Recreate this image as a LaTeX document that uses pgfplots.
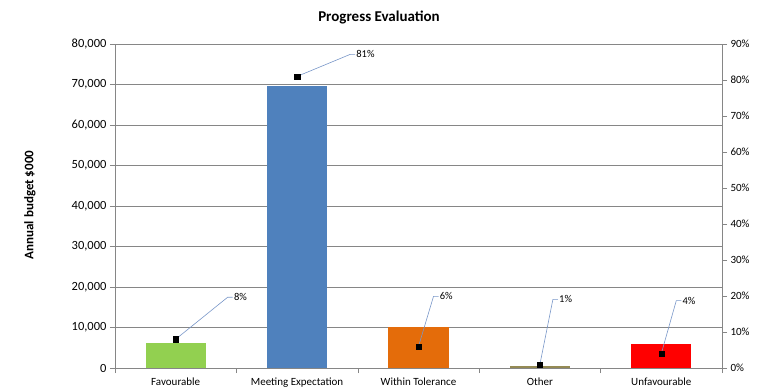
\documentclass[border=0pt]{standalone}
\usepackage{pgfplots}
\pgfplotsset{compat=1.18}
\usepackage{fontspec}
\setmainfont{Carlito}
\definecolor{gfav}{RGB}{146,208,80}
\definecolor{bmeet}{RGB}{79,129,189}
\definecolor{owith}{RGB}{228,108,10}
\definecolor{kother}{RGB}{148,138,84}
\definecolor{runf}{RGB}{255,0,0}
\definecolor{gridc}{RGB}{134,134,134}
\definecolor{leader}{RGB}{120,150,200}
\begin{document}
\begin{tikzpicture}
\path[use as bounding box] (-115pt,-23pt) rectangle (643pt,368pt);
\begin{axis}[
  scale only axis, width=607pt, height=324pt,
  xmin=-0.5, xmax=4.5, ymin=0, ymax=80000,
  ytick={0,10000,...,80000},
  scaled y ticks=false,
  /pgf/number format/assume math mode=true,
  /pgf/number format/1000 sep={,},
  xtick={0,1,2,3,4},
  xticklabels={Favourable,Meeting Expectation,Within Tolerance,Other,Unfavourable},
  minor xtick={-0.5,0.5,1.5,2.5,3.5,4.5},
  major x tick style={draw=none},
  minor tick length=5pt,
  major tick length=5pt,
  tick align=outside,
  axis y line*=left, axis x line*=bottom,
  axis line style={gridc},
  every tick/.style={gridc},
  ymajorgrids, grid style={gridc, line width=0.8pt},
  yticklabel style={font=\fontsize{12.5}{14}\selectfont, black},
  xticklabel style={font=\fontsize{11}{13}\selectfont, black, yshift=-1pt},
  ybar=0pt, bar width=60pt, bar shift=0pt,
]
\addplot[fill=gfav, draw=none] coordinates {(0,6200)};
\addplot[fill=bmeet, draw=none] coordinates {(1,69600)};
\addplot[fill=owith, draw=none] coordinates {(2,10100)};
\addplot[fill=kother, draw=none] coordinates {(3,500)};
\addplot[fill=runf, draw=none] coordinates {(4,5900)};
\end{axis}
\begin{axis}[
  scale only axis, width=607pt, height=324pt,
  xmin=-0.5, xmax=4.5, ymin=0, ymax=90,
  ytick={0,10,...,90},
  yticklabel={\pgfmathprintnumber{\tick}\%},
  /pgf/number format/assume math mode=true,
  axis y line*=right, axis x line=none,
  axis line style={gridc},
  every tick/.style={gridc},
  tick align=outside, major tick length=5pt,
  tick label style={font=\fontsize{11}{13}\selectfont, black},
]
\addplot[only marks, mark=square*, mark size=2.6pt, black] coordinates {(0,8) (1,81) (2,6) (3,1) (4,4)};
\begin{scope}[leader, line width=0.6pt]
\draw (axis cs:0,8) -- ++(52pt,42pt) -- ++(5pt,0pt) node[right, black, inner sep=1pt, font=\fontsize{10.5}{12}\selectfont]{8\%};
\draw (axis cs:1,81) -- ++(53pt,22pt) -- ++(5pt,0pt) node[right, black, inner sep=1pt, font=\fontsize{10.5}{12}\selectfont]{81\%};
\draw (axis cs:2,6) -- ++(15pt,50pt) -- ++(5pt,0pt) node[right, black, inner sep=1pt, font=\fontsize{10.5}{12}\selectfont]{6\%};
\draw (axis cs:3,1) -- ++(13pt,65pt) -- ++(5pt,0pt) node[right, black, inner sep=1pt, font=\fontsize{10.5}{12}\selectfont]{1\%};
\draw (axis cs:4,4) -- ++(15pt,53pt) -- ++(5pt,0pt) node[right, black, inner sep=1pt, font=\fontsize{10.5}{12}\selectfont]{4\%};
\end{scope}
\end{axis}
\node[font=\bfseries\fontsize{15}{18}\selectfont] at (264pt,350pt) {Progress Evaluation};
\node[font=\bfseries\fontsize{13}{15}\selectfont, rotate=90] at (-85pt,163pt) {Annual budget \$000};
\end{tikzpicture}
\end{document}
